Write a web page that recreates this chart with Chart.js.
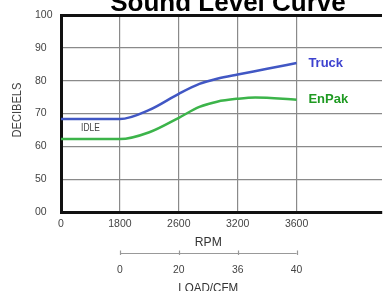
<!DOCTYPE html>
<html>
<head>
<meta charset="utf-8">
<script src="https://cdn.jsdelivr.net/npm/chart.js@4/dist/chart.umd.min.js"></script>
<style>
  html, body { margin: 0; padding: 0; background: #fff; overflow: hidden; }
  #wrap { width: 388px; height: 291px; }
</style>
</head>
<body>
<div id="wrap"><canvas id="myChart"></canvas></div>
<script>
// Sound level curve - Truck vs EnPak

const rpmLabels = ['0', '1800', '2600', '3200', '3600']; // bottom axis, one per grid column
const loadLabels = ['0', '20', '36', '40'];              // load/cfm under 1800..3600
const loadPos = [1, 2, 3, 4];

// x is the rpm column index (0 = "0", 1 = "1800" ...)
const truckX  = [0, 1, 1.5, 2, 2.35, 2.65, 3, 3.5, 4];
const truckDb = [68.3, 68.3, 71.1, 76.0, 79.0, 80.6, 81.9, 83.6, 85.4];
const enpakX  = [0, 1, 1.5, 2, 2.35, 2.65, 3, 3.3, 4];
const enpakDb = [62.2, 62.2, 64.3, 68.7, 72.0, 73.6, 74.5, 74.9, 74.2];

const seriesNames = ['Truck', 'EnPak'];
const idleLabel = {x: 0.5, y: 65.6, text: 'IDLE'};

const blue = '#4157c4';
const green = '#3cb44a';
const gray = '#8a8a8a';
const ink = '#444';
const FONT = '"Liberation Sans", Arial, sans-serif';

function pts(xs, ys) {
    return xs.map((x, i) => ({x: x, y: ys[i]}));
}

// condensed looking text: squeeze the regular font sideways
function narrowText(ctx, text, x, y, size, squeeze, rot) {
    ctx.save();
    ctx.translate(x, y);
    if (rot) ctx.rotate(rot);
    ctx.scale(squeeze, 1);
    ctx.font = size + 'px ' + FONT;
    ctx.textAlign = 'center';
    ctx.textBaseline = 'middle';
    ctx.fillText(text, 0, 0);
    ctx.restore();
}

// text + second (load) axis, placed through the chart scales
const extras = {
    id: 'extras',
    afterDraw(chart) {
        const ctx = chart.ctx;
        const xs = chart.scales.x;
        const ys = chart.scales.y;
        ctx.save();

        // title, top part runs off the canvas like the original
        ctx.fillStyle = '#000';
        ctx.font = 'bold 26px ' + FONT;
        ctx.textAlign = 'center';
        ctx.textBaseline = 'alphabetic';
        ctx.fillText('Sound Level Curve', 228, 11);

        // y title
        ctx.fillStyle = ink;
        narrowText(ctx, 'DECIBELS', 17, 110, 13.5, 0.82, -Math.PI / 2);

        // RPM
        ctx.fillStyle = '#333';
        narrowText(ctx, 'RPM', xs.getPixelForValue(2.5), 242, 13.5, 0.9);

        // load axis
        const ly = 253.5;
        ctx.strokeStyle = '#999';
        ctx.lineWidth = 1.2;
        ctx.beginPath();
        ctx.moveTo(xs.getPixelForValue(loadPos[0]), ly);
        ctx.lineTo(xs.getPixelForValue(loadPos[loadPos.length - 1]), ly);
        loadPos.forEach(p => {
            const px = Math.round(xs.getPixelForValue(p)) + 0.5;
            ctx.moveTo(px, ly - 3);
            ctx.lineTo(px, ly + 1.5);
        });
        ctx.stroke();

        ctx.fillStyle = ink;
        loadPos.forEach((p, i) => {
            narrowText(ctx, loadLabels[i], xs.getPixelForValue(p), 270, 11.5, 0.9);
        });
        ctx.fillStyle = '#333';
        narrowText(ctx, 'LOAD/CFM', xs.getPixelForValue(2.5), 288, 13.5, 0.86);

        // IDLE
        ctx.fillStyle = ink;
        narrowText(ctx, idleLabel.text, xs.getPixelForValue(idleLabel.x), ys.getPixelForValue(idleLabel.y), 10.5, 0.8);

        // series names at the end of each line
        ctx.font = 'bold 13px ' + FONT;
        ctx.textAlign = 'left';
        ctx.textBaseline = 'middle';
        ctx.fillStyle = '#3d42cf';
        ctx.fillText(seriesNames[0], xs.getPixelForValue(4.2), ys.getPixelForValue(truckDb[truckDb.length - 1]));
        ctx.fillStyle = '#1f9a22';
        ctx.fillText(seriesNames[1], xs.getPixelForValue(4.2), ys.getPixelForValue(enpakDb[enpakDb.length - 1]));

        ctx.restore();
    }
};

const ctx = document.getElementById('myChart');
const myChart = new Chart(ctx, {
    type: 'line',
    data: {
        datasets: [
            {
                label: seriesNames[0],
                data: pts(truckX, truckDb),
                borderColor: blue,
                borderWidth: 2.5,
                pointRadius: 0,
                cubicInterpolationMode: 'monotone'
            },
            {
                label: seriesNames[1],
                data: pts(enpakX, enpakDb),
                borderColor: green,
                borderWidth: 2.5,
                pointRadius: 0,
                cubicInterpolationMode: 'monotone'
            }
        ]
    },
    options: {
        responsive: true,
        maintainAspectRatio: false,
        animation: false,
        events: [],
        layout: { padding: { top: 15, left: 35, right: 0, bottom: 0 } },
        plugins: {
            legend: { display: false },
            tooltip: { enabled: false }
        },
        scales: {
            x: {
                type: 'linear',
                min: 0,
                max: 327 / 60,
                afterFit: s => { s.height = 79; },
                border: { color: '#111', width: 3 },
                grid: {
                    drawTicks: false,
                    color: c => (c.tick.value > 0 && c.tick.value <= 4) ? gray : 'rgba(0,0,0,0)',
                    lineWidth: 1.2
                },
                ticks: {
                    stepSize: 1,
                    autoSkip: false,
                    maxRotation: 0,
                    padding: 6,
                    color: ink,
                    font: { family: FONT, size: 10.5 },
                    callback: v => rpmLabels[v] !== undefined ? rpmLabels[v] : ''
                }
            },
            y: {
                min: 40,
                max: 100,
                afterFit: s => { s.width = 26; },
                border: { color: '#111', width: 3 },
                grid: {
                    drawTicks: false,
                    color: c => (c.tick.value === 100 || c.tick.value === 40) ? '#111' : gray,
                    lineWidth: c => c.tick.value === 100 ? 3 : 1.2
                },
                ticks: {
                    stepSize: 10,
                    crossAlign: 'far',
                    color: ink,
                    font: { family: FONT, size: 10.5 },
                    callback: v => v === 40 ? '00' : String(v)
                }
            }
        }
    },
    plugins: [extras]
});
</script>
</body>
</html>
